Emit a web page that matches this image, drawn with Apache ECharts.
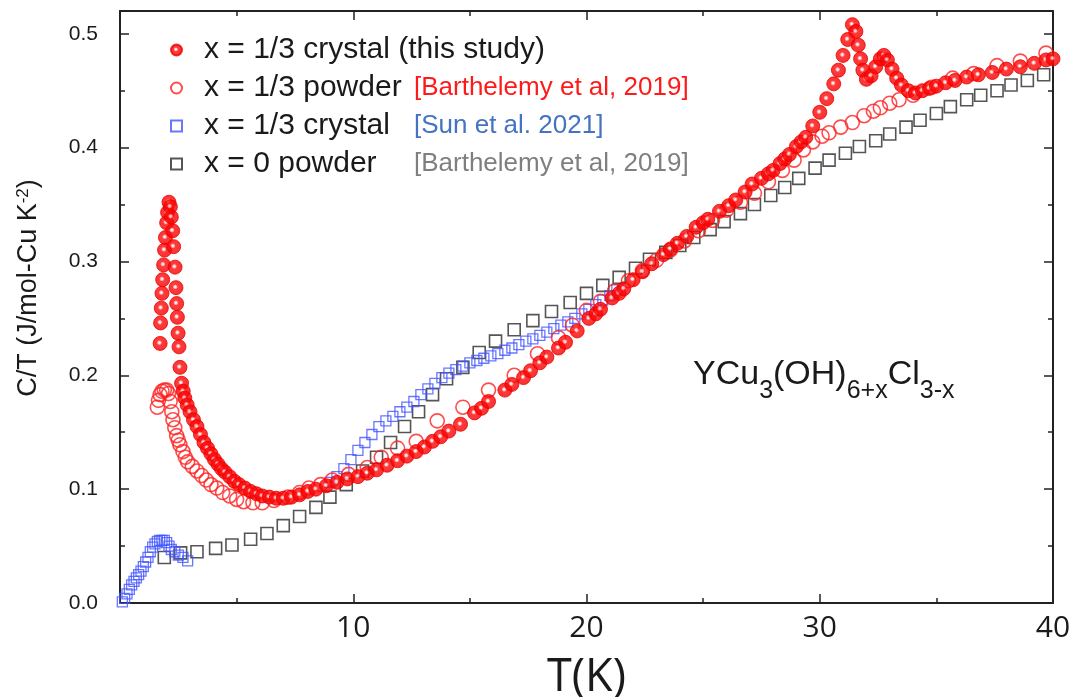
<!DOCTYPE html>
<html>
<head>
<meta charset="utf-8">
<script src="https://cdn.jsdelivr.net/npm/echarts@6/dist/echarts.min.js"></script>
<style>
  html, body { margin: 0; padding: 0; background: #fff; }
  #chart { width: 1073px; height: 697px; }
</style>
</head>
<body>
<div id="chart"></div>
<script>
// C/T versus T for YCu3(OH)6+xCl3-x samples

// x = 1/3 crystal (this study)
const crystalT = [1.72,1.74,1.77,1.80,1.83,1.87,1.91,1.95,2.00,2.04,2.10,2.16,2.20,2.26,2.30,2.36,2.40,2.43,2.46,2.49,2.53,2.57,2.64,2.71,2.78,2.88,3.00,3.15,3.30,3.45,3.60,3.75,3.90,4.05,4.20,4.35,4.50,4.70,4.90,5.10,5.35,5.60,5.85,6.10,6.40,6.70,7.00,7.35,7.70,8.05,8.40,8.85,9.30,9.75,10.20,10.60,11.00,11.45,11.90,12.30,12.70,13.05,13.40,13.75,14.10,14.60,15.20,15.50,15.80,16.50,16.80,17.30,17.60,18.00,18.30,18.80,19.10,19.60,20.10,20.40,20.60,21.10,21.40,21.60,22.00,22.40,22.80,23.30,23.60,23.90,24.30,24.70,25.00,25.20,25.70,26.10,26.40,26.80,27.10,27.50,27.80,28.00,28.30,28.50,28.70,29.00,29.20,29.40,29.70,30.00,30.30,30.60,30.80,31.00,31.20,31.40,31.55,31.65,31.75,31.85,32.00,32.20,32.40,32.60,32.75,32.90,33.10,33.30,33.50,33.80,34.10,34.40,34.70,35.00,35.40,35.80,36.30,36.80,37.40,38.00,38.60,39.20,39.70,40.00];
const crystalC = [0.228,0.246,0.259,0.272,0.284,0.297,0.310,0.321,0.334,0.343,0.352,0.348,0.339,0.327,0.313,0.295,0.277,0.263,0.251,0.237,0.225,0.207,0.193,0.186,0.180,0.174,0.168,0.161,0.155,0.148,0.141,0.136,0.131,0.126,0.122,0.118,0.115,0.111,0.107,0.104,0.101,0.098,0.096,0.094,0.093,0.092,0.092,0.093,0.095,0.098,0.100,0.103,0.106,0.109,0.111,0.114,0.117,0.121,0.125,0.129,0.133,0.137,0.142,0.146,0.151,0.157,0.167,0.171,0.177,0.187,0.192,0.198,0.204,0.211,0.216,0.224,0.229,0.239,0.250,0.254,0.258,0.268,0.272,0.276,0.284,0.291,0.298,0.306,0.311,0.316,0.322,0.330,0.334,0.337,0.344,0.349,0.354,0.361,0.368,0.373,0.377,0.380,0.386,0.390,0.394,0.401,0.405,0.409,0.419,0.431,0.443,0.456,0.468,0.481,0.495,0.508,0.502,0.490,0.478,0.468,0.460,0.463,0.471,0.478,0.481,0.477,0.469,0.461,0.455,0.450,0.448,0.450,0.452,0.454,0.457,0.459,0.462,0.464,0.466,0.469,0.471,0.474,0.477,0.478];

// x = 1/3 powder [Barthelemy et al, 2019]
const powderT = [1.60,1.65,1.72,1.80,1.90,2.00,2.08,2.15,2.22,2.27,2.35,2.43,2.50,2.57,2.70,2.80,2.90,3.10,3.30,3.50,3.70,3.90,4.15,4.40,4.70,5.00,5.30,5.70,6.10,6.60,7.20,7.70,8.10,8.60,9.10,9.80,10.60,11.20,11.90,12.70,13.60,14.70,15.80,16.90,17.90,18.80,19.40,20.00,20.60,21.20,21.80,22.40,23.00,23.60,24.20,24.80,25.40,26.00,26.60,27.20,27.80,28.40,28.90,29.30,29.70,30.10,30.40,30.90,31.40,31.90,32.30,32.60,33.00,33.40,34.00,34.80,35.70,36.60,37.60,38.60,39.70];
const powderC = [0.172,0.178,0.183,0.186,0.187,0.187,0.184,0.177,0.168,0.161,0.154,0.147,0.143,0.139,0.133,0.128,0.124,0.120,0.116,0.112,0.108,0.104,0.101,0.097,0.094,0.091,0.089,0.088,0.088,0.090,0.093,0.097,0.101,0.104,0.108,0.113,0.119,0.128,0.136,0.142,0.160,0.172,0.187,0.200,0.219,0.233,0.244,0.257,0.265,0.274,0.283,0.292,0.301,0.310,0.318,0.327,0.336,0.345,0.352,0.360,0.370,0.380,0.389,0.398,0.405,0.410,0.413,0.418,0.422,0.428,0.432,0.435,0.439,0.442,0.446,0.453,0.461,0.465,0.472,0.476,0.483];

// x = 1/3 crystal [Sun et al. 2021]
const sunT = [0.10,0.20,0.30,0.40,0.50,0.60,0.70,0.80,0.90,1.00,1.10,1.20,1.30,1.40,1.50,1.60,1.70,1.80,1.90,2.00,2.10,2.20,2.35,2.50,2.70,2.90,9.00,9.30,9.60,9.90,10.20,10.50,10.80,11.10,11.40,11.70,12.00,12.30,12.60,12.90,13.20,13.50,13.80,14.10,14.40,14.70,15.00,15.30,15.60,15.90,16.20,16.50,16.80,17.10,17.40,17.70,18.00,18.30,18.60,18.90,19.20,19.50,19.80,20.10,20.40,20.70,21.00,21.30];
const sunC = [0.001,0.004,0.008,0.012,0.016,0.019,0.022,0.025,0.028,0.032,0.036,0.040,0.045,0.049,0.052,0.054,0.055,0.055,0.055,0.053,0.050,0.047,0.045,0.042,0.040,0.037,0.106,0.111,0.118,0.126,0.134,0.141,0.148,0.155,0.160,0.164,0.168,0.172,0.177,0.183,0.188,0.193,0.198,0.202,0.205,0.208,0.211,0.213,0.215,0.217,0.219,0.222,0.224,0.227,0.230,0.232,0.235,0.238,0.241,0.244,0.247,0.250,0.254,0.258,0.262,0.266,0.270,0.275];

// x = 0 powder [Barthelemy et al, 2019]
const x0T = [1.9,2.6,3.3,4.1,4.8,5.6,6.3,7.0,7.7,8.4,9.0,9.7,10.4,11.0,11.6,12.2,12.8,13.4,14.0,14.7,15.4,16.1,16.9,17.7,18.5,19.3,20.0,20.7,21.4,22.1,22.7,23.4,24.0,24.6,25.3,25.9,26.6,27.2,27.9,28.5,29.1,29.8,30.4,31.1,31.7,32.4,33.0,33.7,34.3,35.0,35.6,36.3,36.9,37.6,38.2,38.9,39.6];
const x0C = [0.040,0.044,0.045,0.048,0.051,0.056,0.061,0.068,0.076,0.084,0.093,0.104,0.116,0.128,0.141,0.155,0.168,0.183,0.197,0.207,0.220,0.230,0.240,0.248,0.256,0.264,0.272,0.279,0.286,0.294,0.302,0.308,0.314,0.321,0.328,0.335,0.342,0.350,0.358,0.365,0.373,0.382,0.389,0.395,0.401,0.406,0.412,0.418,0.424,0.430,0.436,0.442,0.446,0.450,0.455,0.459,0.464];

// Tick values shown on the temperature axis
const xTickLabels = [10, 20, 30, 40];

const legendNames = [
  'x = 1/3 crystal (this study)',
  'x = 1/3 powder',
  'x = 1/3 crystal',
  'x = 0 powder'
];
const legendRefs = ['', '[Barthelemy et al, 2019]', '[Sun et al. 2021]', '[Barthelemy et al, 2019]'];
const refStyles = ['', 'r', 'b', 'g'];

const zip = (xs, ys) => xs.map((x, i) => [x, ys[i]]);

const SANS = "'Liberation Sans', Arial, Helvetica, sans-serif";
const LABEL_FONT = "'Open Sans', 'Noto Sans', sans-serif";
const INK = '#1a1a1a';

const chart = echarts.init(document.getElementById('chart'), null, { renderer: 'canvas' });

// shiny filled marker: red ball with a small white highlight
const ballFill = {
  type: 'radial', x: 0.45, y: 0.45, r: 0.55,
  colorStops: [
    { offset: 0, color: '#ffffff' },
    { offset: 0.14, color: '#ffd0d0' },
    { offset: 0.32, color: '#ff0a0a' },
    { offset: 1, color: '#f00000' }
  ]
};

const frameLine = { show: true, onZero: false, lineStyle: { color: '#222', width: 2 } };
const majorTick = { show: true, inside: true, length: 9, lineStyle: { color: '#222', width: 1.5 } };
const minorTick = { show: true, splitNumber: 2, length: 5, lineStyle: { color: '#222', width: 1.5 } };

const xAxisBase = {
  type: 'value', min: 0, max: 40, interval: 10,
  axisLine: frameLine, axisTick: majorTick, minorTick: minorTick,
  splitLine: { show: false }, minorSplitLine: { show: false }
};
const yAxisBase = {
  type: 'value', min: 0, max: 0.52, interval: 0.1,
  axisLine: frameLine, axisTick: majorTick, minorTick: minorTick,
  splitLine: { show: false }, minorSplitLine: { show: false }
};

const option = {
  animation: false,
  backgroundColor: '#ffffff',
  grid: { left: 120, right: 20, top: 11, bottom: 94, containLabel: false, outerBoundsMode: 'none' },
  xAxis: [
    Object.assign({}, xAxisBase, {
      position: 'bottom',
      axisLabel: {
        show: true, margin: 10, color: INK, fontFamily: LABEL_FONT, fontSize: 30,
        formatter: v => (xTickLabels.indexOf(v) >= 0 ? String(v) : '')
      },
      name: 'T(K)', nameLocation: 'middle', nameGap: 53,
      nameTextStyle: { fontFamily: LABEL_FONT, fontSize: 45, color: INK }
    }),
    Object.assign({}, xAxisBase, { position: 'top', axisLabel: { show: false } })
  ],
  yAxis: [
    Object.assign({}, yAxisBase, {
      position: 'left',
      axisLabel: {
        show: true, margin: 22, color: INK, fontFamily: SANS, fontSize: 21,
        formatter: v => (v > 0.505 ? '' : v.toFixed(1))
      }
    }),
    Object.assign({}, yAxisBase, { position: 'right', axisLabel: { show: false } })
  ],
  legend: {
    orient: 'vertical', left: 165, top: 30,
    itemWidth: 11, itemHeight: 11, itemGap: 8,
    selectedMode: false,
    data: legendNames,
    formatter: name => {
      const i = legendNames.indexOf(name);
      if (!legendRefs[i]) return '{c|' + name + '}';
      return '{a|' + name + '}{' + refStyles[i] + '|' + legendRefs[i] + '}';
    },
    textStyle: {
      color: INK, fontFamily: SANS, fontSize: 30,
      rich: {
        a: { fontFamily: SANS, fontSize: 30, lineHeight: 30, width: 210, padding: [0, 0, 0, 17], color: INK },
        c: { fontFamily: SANS, fontSize: 30, lineHeight: 30, padding: [0, 0, 0, 17], color: INK },
        r: { fontFamily: SANS, fontSize: 26, lineHeight: 30, color: '#ff1a1a' },
        b: { fontFamily: SANS, fontSize: 26, lineHeight: 30, color: '#4472c4' },
        g: { fontFamily: SANS, fontSize: 26, lineHeight: 30, color: '#7f7f7f' }
      }
    }
  },
  graphic: [
    {
      type: 'text', x: 30, y: 288, rotation: Math.PI / 2, silent: true,
      style: {
        text: '{a|C/T (J/mol-Cu K}{s|-2}{a|)}',
        align: 'center', verticalAlign: 'middle', fill: INK,
        rich: {
          a: { fontFamily: SANS, fontSize: 27, lineHeight: 30, verticalAlign: 'top', fill: INK },
          s: { fontFamily: SANS, fontSize: 17, lineHeight: 17, verticalAlign: 'top', fill: INK }
        }
      }
    },
    {
      type: 'text', x: 693, y: 358, silent: true,
      style: {
        text: '{m|YCu}{s|3}{m|(OH)}{s|6+x}{m|Cl}{s|3-x}',
        align: 'left', verticalAlign: 'top', fill: INK,
        rich: {
          m: { fontFamily: SANS, fontSize: 34, lineHeight: 34, verticalAlign: 'top', fill: INK },
          s: { fontFamily: SANS, fontSize: 25, lineHeight: 25, padding: [21, 0, 0, 0], verticalAlign: 'top', fill: INK }
        }
      }
    }
  ],
  series: [
    {
      name: 'x = 0 powder', type: 'scatter', data: zip(x0T, x0C),
      symbol: 'rect', symbolSize: 12,
      itemStyle: { color: 'rgba(255,255,255,0)', borderColor: '#2a2a2a', borderWidth: 1.6 },
      z: 2
    },
    {
      name: 'x = 1/3 crystal', type: 'scatter', data: zip(sunT, sunC),
      symbol: 'rect', symbolSize: 10,
      itemStyle: { color: 'rgba(255,255,255,0)', borderColor: '#4455ff', borderWidth: 1.3 },
      z: 3
    },
    {
      name: 'x = 1/3 powder', type: 'scatter', data: zip(powderT, powderC),
      symbol: 'circle', symbolSize: 14,
      itemStyle: { color: 'rgba(255,255,255,0)', borderColor: '#ff2020', borderWidth: 1.6 },
      z: 4
    },
    {
      name: 'x = 1/3 crystal (this study)', type: 'scatter', data: zip(crystalT, crystalC),
      symbol: 'circle', symbolSize: 14,
      itemStyle: { color: ballFill, borderColor: '#f00000', borderWidth: 1 },
      z: 5
    }
  ]
};

chart.setOption(option);
</script>
</body>
</html>
